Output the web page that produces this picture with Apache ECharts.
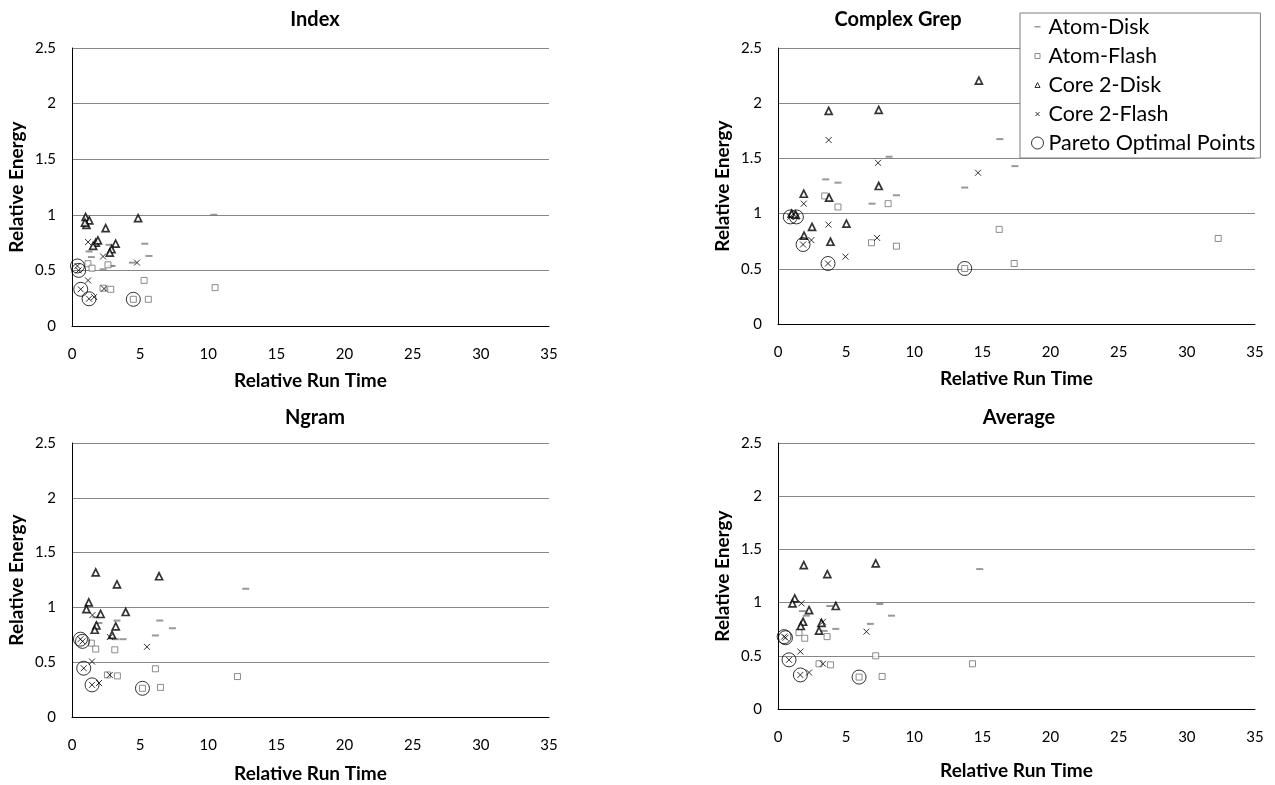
<!DOCTYPE html>
<html><head><meta charset="utf-8">
<script src="https://cdn.jsdelivr.net/npm/echarts@6/dist/echarts.min.js"></script>
<style>html,body{margin:0;padding:0;background:#fff}#c{width:1275px;height:785px}</style>
</head><body><div id="c"></div>
<script>
// ---------- data ----------
const seriesNames = ['Atom-Disk', 'Atom-Flash', 'Core 2-Disk', 'Core 2-Flash', 'Pareto Optimal Points'];
const panelTitles = ['Index', 'Complex Grep', 'Ngram', 'Average'];
const xAxisName = 'Relative Run Time';
const yAxisName = 'Relative Energy';

// Index
const indexAtomDisk = [[10.4,1.0],[5.34,0.74],[5.65,0.63],[1.25,0.67],[1.42,0.62],[2.72,0.73],[2.82,0.54],[2.28,0.51],[4.43,0.57],[2.94,0.54]];
const indexAtomFlash = [[1.17,0.56],[1.47,0.52],[2.64,0.55],[5.29,0.41],[10.5,0.345],[2.28,0.34],[2.84,0.33],[5.6,0.24],[4.5,0.24]];
const indexCore2Disk = [[1.0,0.98],[1.27,0.95],[1.06,0.91],[0.95,0.93],[4.85,0.97],[2.47,0.88],[1.74,0.75],[1.55,0.72],[1.9,0.77],[3.2,0.74],[2.9,0.69],[2.77,0.66]];
const indexCore2Flash = [[1.18,0.755],[2.28,0.625],[4.77,0.57],[1.18,0.41],[2.35,0.336],[1.62,0.26],[0.4,0.54],[0.49,0.5],[0.64,0.33],[1.25,0.245]];
const indexPareto = [[0.4,0.54],[0.49,0.5],[0.64,0.33],[1.25,0.245],[4.5,0.24]];

// Complex Grep
const cgAtomDisk = [[16.28,1.675],[17.38,1.43],[8.15,1.515],[3.5,1.31],[4.4,1.28],[13.7,1.236],[8.69,1.166],[6.9,1.09]];
const cgAtomFlash = [[3.43,1.16],[4.4,1.06],[8.08,1.09],[16.23,0.857],[6.86,0.736],[8.69,0.705],[17.33,0.548],[13.7,0.503],[32.3,0.775]];
const cgCore2Disk = [[14.74,2.205],[3.72,1.93],[7.39,1.94],[7.39,1.25],[1.89,1.18],[3.75,1.145],[1.0,1.0],[1.3,0.99],[2.5,0.88],[5.02,0.91],[1.91,0.8],[3.85,0.745]];
const cgCore2Flash = [[3.72,1.666],[7.34,1.46],[14.68,1.37],[1.89,1.09],[3.7,0.9],[2.45,0.76],[7.27,0.78],[4.95,0.61],[1.84,0.72],[3.67,0.548],[0.9,0.97],[1.35,0.97]];
const cgPareto = [[0.9,0.97],[1.35,0.97],[1.84,0.72],[3.67,0.548],[13.7,0.503]];

// Ngram
const ngAtomDisk = [[12.75,1.17],[6.44,0.88],[7.37,0.81],[6.12,0.744],[3.3,0.88],[1.98,0.857],[3.21,0.71],[3.75,0.71],[1.74,0.91]];
const ngAtomFlash = [[1.42,0.674],[1.74,0.62],[3.14,0.613],[6.12,0.44],[12.14,0.369],[2.6,0.384],[3.33,0.375],[6.49,0.27],[5.17,0.262]];
const ngCore2Disk = [[1.74,1.32],[6.39,1.284],[3.3,1.21],[1.23,1.046],[1.06,0.985],[2.1,0.94],[3.94,0.958],[1.79,0.835],[1.67,0.796],[3.21,0.826],[2.94,0.75]];
const ngCore2Flash = [[1.5,0.93],[5.5,0.64],[2.77,0.73],[1.47,0.506],[2.77,0.384],[1.98,0.31],[0.62,0.71],[0.77,0.69],[0.86,0.445],[1.47,0.293]];
const ngPareto = [[0.62,0.71],[0.77,0.69],[0.86,0.445],[1.47,0.293],[5.17,0.262]];

// Average
const avAtomDisk = [[1.79,0.92],[2.08,0.877],[3.8,0.968],[7.47,0.987],[8.33,0.877],[6.78,0.8],[4.24,0.753],[3.38,0.734],[14.8,1.315]];
const avAtomFlash = [[1.54,0.718],[1.96,0.665],[3.6,0.68],[7.17,0.5],[3.01,0.425],[3.85,0.415],[7.64,0.306],[14.27,0.425],[5.95,0.3]];
const avCore2Disk = [[1.89,1.352],[7.17,1.368],[3.62,1.268],[1.23,1.04],[1.06,0.993],[2.28,0.93],[4.24,0.968],[1.84,0.82],[1.67,0.78],[3.19,0.81],[3.01,0.737]];
const avCore2Flash = [[1.72,0.993],[3.3,0.82],[6.49,0.727],[1.64,0.54],[3.3,0.425],[2.28,0.343],[0.45,0.68],[0.55,0.67],[0.81,0.462],[1.64,0.32]];
const avPareto = [[0.45,0.68],[0.55,0.67],[0.81,0.462],[1.64,0.32],[5.95,0.3]];

const panelData = [
  [indexAtomDisk, indexAtomFlash, indexCore2Disk, indexCore2Flash, indexPareto],
  [cgAtomDisk, cgAtomFlash, cgCore2Disk, cgCore2Flash, cgPareto],
  [ngAtomDisk, ngAtomFlash, ngCore2Disk, ngCore2Flash, ngPareto],
  [avAtomDisk, avAtomFlash, avCore2Disk, avCore2Flash, avPareto]
];

// ---------- layout / style ----------
const FONT = 'Lato, "Liberation Sans", sans-serif';
const grids = [
  {left: 72, top: 48, width: 477, height: 278},
  {left: 778, top: 48, width: 477, height: 276},
  {left: 72, top: 443, width: 477, height: 274},
  {left: 778, top: 443, width: 477, height: 266}
];
const titlePos = [[310, 5], [893, 5], [310, 403], [1014, 403]];
const xNameGap = [45, 45, 47, 52];

const styles = [
  {symbol: 'rect', symbolSize: [7, 2], itemStyle: {color: '#7f7f7f'}},
  {symbol: 'rect', symbolSize: 6, itemStyle: {color: '#fff', borderColor: '#6f6f6f', borderWidth: 1}},
  {symbol: 'triangle', symbolSize: 7, itemStyle: {color: '#fff', borderColor: '#000', borderWidth: 1.7}},
  {symbol: 'path://M0,0L10,10M10,0L0,10', symbolSize: 6, itemStyle: {color: 'none', borderColor: '#000', borderWidth: 1}},
  {symbol: 'circle', symbolSize: 14, itemStyle: {color: 'none', borderColor: '#000', borderWidth: 1}}
];
const legendIcons = [
  'path://M0,0M3,5L9,5L9,6.5L3,6.5ZM12,12',
  'path://M0,0M3.5,3.5L8.5,3.5L8.5,8.5L3.5,8.5ZM12,12',
  'path://M0,0M3.5,8.5L6,3.5L8.5,8.5ZM12,12',
  'path://M0,0M4,4L8,8M8,4L4,8M12,12',
  'circle'
];
const legendItemStyles = [
  {color: '#7f7f7f', borderWidth: 0},
  {color: '#fff', borderColor: '#6f6f6f', borderWidth: 1},
  {color: '#fff', borderColor: '#000', borderWidth: 1},
  {color: 'none', borderColor: '#000', borderWidth: 1},
  {color: 'none', borderColor: '#000', borderWidth: 1}
];

const option = {
  backgroundColor: '#fff',
  animation: false,
  textStyle: {fontFamily: FONT},
  title: panelTitles.map((t, i) => ({
    text: t, left: titlePos[i][0], top: titlePos[i][1], textAlign: 'center',
    textStyle: {fontFamily: FONT, fontSize: 20, fontWeight: 'bold', color: '#000'}
  })),
  grid: grids,
  xAxis: grids.map((g, i) => ({
    gridIndex: i, type: 'value', min: 0, max: 35, interval: 5,
    name: xAxisName, nameLocation: 'middle', nameGap: xNameGap[i],
    nameTextStyle: {fontFamily: FONT, fontSize: 19, fontWeight: 'bold', color: '#000'},
    axisLine: {show: true, onZero: false, lineStyle: {color: '#000', width: 1}},
    axisTick: {show: false}, splitLine: {show: false},
    axisLabel: {margin: 21, fontSize: 15, color: '#000', fontFamily: FONT}
  })),
  yAxis: grids.map((g, i) => ({
    gridIndex: i, type: 'value', min: 0, max: 2.5, interval: 0.5,
    name: yAxisName, nameLocation: 'middle', nameGap: 46, nameRotate: 90,
    nameTextStyle: {fontFamily: FONT, fontSize: 19, fontWeight: 'bold', color: '#000'},
    axisLine: {show: true, onZero: false, lineStyle: {color: '#000', width: 1}},
    axisTick: {show: false},
    splitLine: {show: true, lineStyle: {color: '#868686', width: 1}},
    axisLabel: {margin: 16, fontSize: 15, color: '#000', fontFamily: FONT}
  })),
  legend: {
    orient: 'vertical', left: 1020, top: 13,
    backgroundColor: '#fff', borderColor: '#7f7f7f', borderWidth: 1,
    padding: [3, 5, 4, 9], itemGap: 7, itemWidth: 12, itemHeight: 12, itemTextGap: 6,
    textStyle: {fontFamily: FONT, fontSize: 21.5, color: '#000'},
    data: seriesNames.map((n, k) => ({name: n, icon: legendIcons[k], itemStyle: legendItemStyles[k]}))
  },
  series: []
};

panelData.forEach((sets, i) => {
  sets.forEach((d, k) => {
    option.series.push(Object.assign({
      type: 'scatter', name: seriesNames[k], xAxisIndex: i, yAxisIndex: i,
      data: d, z: k === 4 ? 5 : 3, silent: true
    }, JSON.parse(JSON.stringify(styles[k]))));
  });
});

const chart = echarts.init(document.getElementById('c'), null, {renderer: 'canvas'});
chart.setOption(option);
</script>
</body></html>
